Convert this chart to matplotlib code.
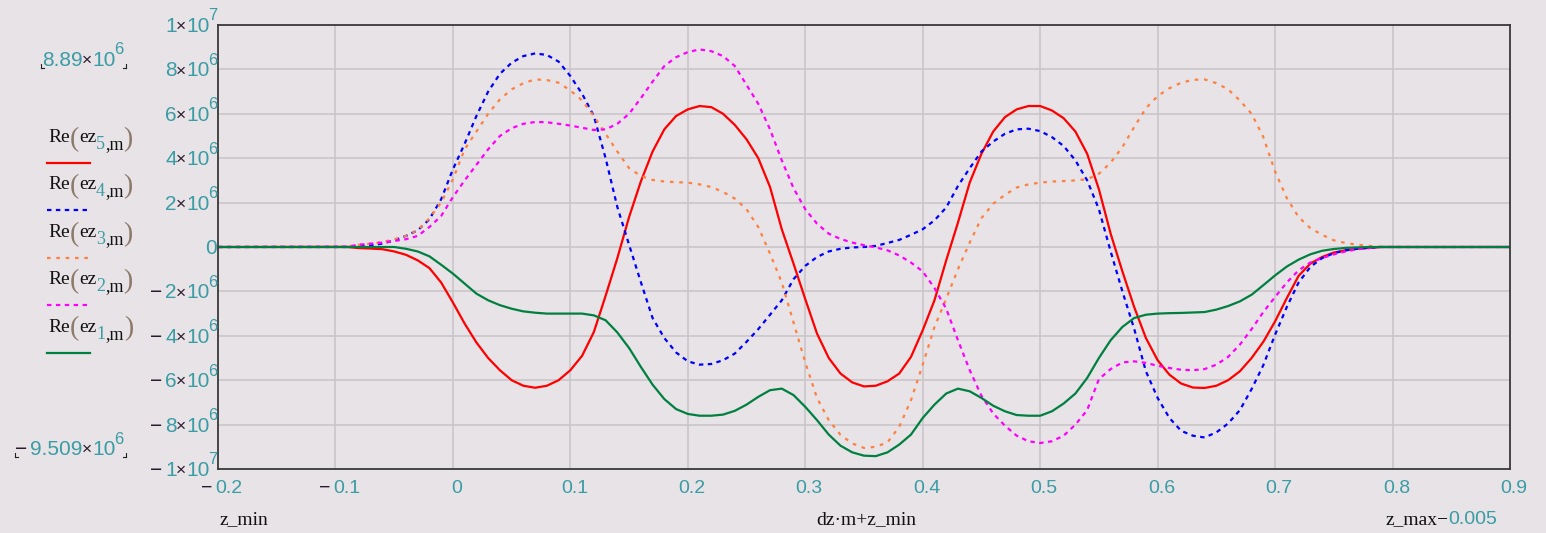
import matplotlib.pyplot as plt
import numpy as np
from matplotlib import transforms
from matplotlib.lines import Line2D

plt.rcParams['font.family'] = 'Liberation Sans'

# sample positions z = -0.09 ... 0.80 (step 0.01), axis runs z_min .. z_max-0.005
z = np.round(np.arange(-0.09, 0.8001, 0.01), 2)
z_min = -0.2
z_end = 0.9

# Re(ez) values, in units of 1e6
ez5 = [0, -0.05, -0.07, -0.1, -0.2, -0.35, -0.6, -0.95, -1.6, -2.5,
       -3.45, -4.3, -5.0, -5.55, -6.0, -6.25, -6.34, -6.25, -6.0, -5.55,
       -4.9, -3.83, -2.2, -0.5, 1.35, 2.95, 4.3, 5.3, 5.9, 6.2,
       6.35, 6.3, 6.0, 5.5, 4.85, 4.0, 2.7, 0.8, -0.75, -2.35,
       -3.9, -5.0, -5.7, -6.1, -6.28, -6.25, -6.05, -5.7, -4.95, -3.75,
       -2.4, -0.6, 1.1, 2.9, 4.2, 5.2, 5.85, 6.2, 6.35, 6.35,
       6.15, 5.8, 5.2, 4.2, 2.6, 0.6, -1.1, -2.7, -4.1, -5.1,
       -5.75, -6.15, -6.33, -6.35, -6.25, -6.0, -5.6, -5.0, -4.27, -3.35,
       -2.3, -1.3, -0.75, -0.45, -0.25, -0.15, -0.08, -0.04, 0, 0]
ez4 = [0, 0.03, 0.08, 0.15, 0.3, 0.5, 0.75, 1.25, 2.15, 3.5,
       4.65, 5.9, 7.0, 7.8, 8.3, 8.6, 8.72, 8.65, 8.35, 7.7,
       6.9, 5.9, 4.0, 1.8, 0.1, -1.58, -3.2, -4.1, -4.75, -5.15,
       -5.3, -5.27, -5.1, -4.8, -4.27, -3.7, -3.05, -2.4, -1.45, -0.85,
       -0.45, -0.2, -0.08, -0.02, 0.0, 0.05, 0.18, 0.32, 0.55, 0.8,
       1.2, 1.78, 2.75, 3.55, 4.3, 4.75, 5.1, 5.3, 5.33, 5.22,
       4.95, 4.55, 3.9, 3.0, 1.7, -0.2, -2.0, -3.68, -5.6, -6.8,
       -7.7, -8.28, -8.5, -8.58, -8.35, -7.95, -7.35, -6.4, -5.32, -3.95,
       -2.7, -1.6, -0.9, -0.5, -0.28, -0.15, -0.08, -0.03, 0, 0]
ez3 = [0.02, 0.1, 0.15, 0.22, 0.35, 0.5, 0.75, 1.3, 2.0, 3.05,
       4.4, 5.2, 6.0, 6.65, 7.1, 7.38, 7.55, 7.52, 7.4, 7.05,
       6.6, 5.9, 5.1, 4.3, 3.55, 3.2, 3.02, 2.95, 2.92, 2.9,
       2.82, 2.7, 2.48, 2.18, 1.7, 0.9, -0.3, -1.6, -3.4, -5.2,
       -6.8, -7.8, -8.46, -8.85, -9.05, -9.0, -8.8, -8.1, -6.9, -5.3,
       -3.6, -2.33, -1.0, 0.2, 1.3, 1.95, 2.35, 2.68, 2.82, 2.9,
       2.95, 2.97, 3.0, 3.05, 3.3, 3.8, 4.5, 5.4, 6.25, 6.8,
       7.15, 7.4, 7.53, 7.55, 7.38, 7.1, 6.6, 6.0, 4.95, 3.4,
       2.2, 1.35, 0.85, 0.55, 0.3, 0.18, 0.1, 0.05, 0.01, 0]
ez2 = [0.02, 0.1, 0.15, 0.2, 0.27, 0.35, 0.5, 0.9, 1.4, 2.25,
       3.0, 3.7, 4.4, 5.0, 5.35, 5.55, 5.63, 5.62, 5.55, 5.47,
       5.37, 5.27, 5.3, 5.55, 6.0, 6.7, 7.45, 8.15, 8.55, 8.78,
       8.9, 8.82, 8.6, 8.15, 7.3, 6.45, 5.3, 3.9, 2.65, 1.7,
       1.05, 0.6, 0.36, 0.2, 0.08, -0.02, -0.15, -0.38, -0.7, -1.1,
       -1.85, -2.78, -4.2, -5.55, -6.7, -7.5, -8.05, -8.5, -8.75, -8.83,
       -8.75, -8.5, -8.0, -7.35, -5.95, -5.5, -5.2, -5.15, -5.22, -5.35,
       -5.45, -5.53, -5.55, -5.5, -5.3, -4.95, -4.4, -3.7, -2.93, -2.25,
       -1.6, -1.05, -0.7, -0.5, -0.33, -0.2, -0.1, -0.05, 0, 0]
ez1 = [0, 0, 0, 0, 0, -0.08, -0.2, -0.42, -0.8, -1.2,
       -1.65, -2.1, -2.4, -2.62, -2.78, -2.9, -2.96, -3.0, -3.0, -3.0,
       -3.0, -3.08, -3.3, -3.85, -4.55, -5.4, -6.2, -6.85, -7.3, -7.52,
       -7.6, -7.6, -7.55, -7.38, -7.1, -6.75, -6.45, -6.38, -6.67, -7.2,
       -7.8, -8.45, -8.95, -9.25, -9.4, -9.42, -9.25, -8.9, -8.45, -7.7,
       -7.1, -6.6, -6.38, -6.5, -6.8, -7.15, -7.4, -7.57, -7.6, -7.6,
       -7.4, -7.05, -6.6, -5.9, -5.0, -4.2, -3.6, -3.2, -3.05, -3.0,
       -2.98, -2.97, -2.95, -2.93, -2.82, -2.66, -2.45, -2.15, -1.72, -1.28,
       -0.88, -0.57, -0.33, -0.17, -0.09, -0.04, -0.02, 0, 0, 0]

xticks = [-0.2, -0.1, 0, 0.1, 0.2, 0.3, 0.4, 0.5, 0.6, 0.7, 0.8, 0.9]
yticks = [-1e7, -8e6, -6e6, -4e6, -2e6, 0, 2e6, 4e6, 6e6, 8e6, 1e7]
y_top_label = ('', '8.89', '6')      # range values shown by Mathcad
y_bot_label = ('\u2212', '9.509', '6')

traces = [(ez5, '5', '#ff0000', '-'),
          (ez4, '4', '#0000ff', (0, (2, 2))),
          (ez3, '3', '#ff8040', (0, (1.6, 2.6))),
          (ez2, '2', '#ff00ff', (0, (2, 2))),
          (ez1, '1', '#008040', '-')]

W, H = 1546, 533
bg = '#e7e3e6'
teal = '#3a9ca4'
dark = '#2a1a2e'
fs = 14
fsy = 15
fexp = 12
serif = 'Liberation Serif'

fig = plt.figure(figsize=(W / 100, H / 100), dpi=100, facecolor=bg)
ax = fig.add_axes([218 / W, 1 - 469 / H, (1510 - 218) / W, (469 - 25) / H])
ax.set_facecolor(bg)

zz = np.concatenate([[z_min], z, [z_end]])
for vals, k, col, ls in traces:
    vv = np.concatenate([[0], np.array(vals) * 1e6, [0]])
    ax.plot(zz, vv, color=col, lw=1.6, linestyle=ls)

ax.set_xlim(z_min, z_end)
ax.set_ylim(-1e7, 1e7)
ax.set_xticks(xticks)
ax.set_yticks(yticks)
ax.grid(True, color='#c9c6c9', lw=1.2)
ax.set_axisbelow(True)
ax.tick_params(length=0, labelleft=False, labelbottom=False)
for s in ax.spines.values():
    s.set_color('#3a3a3a')
    s.set_linewidth(1.3)


def ftext(xp, yp, s, **kw):
    # text at figure pixel position (yp measured from the top)
    kw.setdefault('va', 'baseline')
    return fig.text(xp / W, 1 - yp / H, s, **kw)


def left_of(anchor, s, yp, gap=0, **kw):
    return ax.annotate(s, xy=(0, H - yp), xycoords=(anchor, 'figure pixels'),
                       xytext=(-gap, 0), textcoords='offset pixels',
                       ha='right', va='baseline', annotation_clip=False, **kw)


def right_of(anchor, s, yp, gap=0, **kw):
    return ax.annotate(s, xy=(1, H - yp), xycoords=(anchor, 'figure pixels'),
                       xytext=(gap, 0), textcoords='offset pixels',
                       ha='left', va='baseline', annotation_clip=False, **kw)


def sci_label(xr, yb, sign, mant, exp):
    # Mathcad style  [-] m x 10^e  ending at pixel xr, base line at yb
    te = ftext(xr, yb - 11.5, exp, ha='right', color=teal, fontsize=fexp)
    t10 = left_of(te, '10', yb, gap=-1.5, color=teal, fontsize=fsy)
    tx = left_of(t10, '\u00d7', yb - 1, gap=-0.5, color=dark, fontsize=12.5)
    tm = left_of(tx, mant, yb, gap=-0.5, color=teal, fontsize=fsy)
    if sign:
        left_of(tm, sign, yb, gap=3, color=dark, fontsize=fsy)
    return tm


# y tick labels
for v in yticks:
    ty = 25 + (1e7 - v) / 2e7 * 444
    if v == 0:
        ftext(217, ty + 6.5, '0', ha='right', color=teal, fontsize=fsy)
        continue
    e = int(np.floor(np.log10(abs(v)) + 1e-9))
    m = round(abs(v) / 10 ** e)
    sci_label(217, ty + 7, '\u2212' if v < 0 else '', '%d' % m, '%d' % e)

# x tick labels
xtr = ax.get_xaxis_transform()
for v in xticks:
    s = ('%.1f' % abs(v)) if v != 0 else '0'
    dx = 11 if v < 0 else 4
    tr = transforms.offset_copy(xtr, fig=fig, x=dx, y=-24, units='dots')
    t = ax.text(v, 0, s, transform=tr, ha='center', va='baseline',
                color=teal, fontsize=fs)
    if v < 0:
        left_of(t, '\u2212', 493, gap=3, color=dark, fontsize=fs)

ftext(220, 524, 'z_min', family=serif, fontsize=fs, ha='left', color='#111111')
ftext(866, 524, 'dz\u00b7m+z_min', family=serif, fontsize=fs, ha='center',
      color='#111111')
t = ftext(1497, 524, '0.005', fontsize=fs, ha='right', color=teal)
left_of(t, 'z_max\u2212', 524, family=serif, fontsize=fs, color='#111111')

# range values at the left
sci_label(123, 66, *y_top_label)
sci_label(123, 455, *y_bot_label)


def corner(x0, x1, xv, y):
    fig.add_artist(Line2D([x0 / W, x1 / W], [1 - y / H, 1 - y / H],
                          color='#222222', lw=0.8))
    fig.add_artist(Line2D([xv / W, xv / W], [1 - y / H, 1 - (y - 4) / H],
                          color='#222222', lw=0.8))


corner(41, 44, 41, 68)
corner(123, 126, 126, 68)
corner(15, 18, 15, 457)
corner(123, 126, 126, 457)

# legend (Mathcad style, left of the plot)
paren = '#8c7a6a'
for i, (vals, k, col, ls) in enumerate(traces):
    yb = 142 + 47.4 * i
    t1 = ftext(48, yb, 'Re', family=serif, fontsize=14, color='#111111',
               ha='left')
    p1 = right_of(t1, '(', yb + 4, family=serif, fontsize=20, color=paren)
    t3 = right_of(p1, 'ez', yb, family=serif, fontsize=14, color='#111111')
    t4 = right_of(t3, k, yb + 7, family=serif, fontsize=13, color=teal)
    t5 = right_of(t4, ',m', yb + 7, family=serif, fontsize=13,
                  color='#111111')
    right_of(t5, ')', yb + 4, family=serif, fontsize=20, color=paren)
    yl = 1 - (163 + 47.4 * i) / H
    fig.add_artist(Line2D([47 / W, 90 / W], [yl, yl], color=col, lw=1.6,
                          linestyle=ls))

fig.savefig('out.png', dpi=100, facecolor=bg)
